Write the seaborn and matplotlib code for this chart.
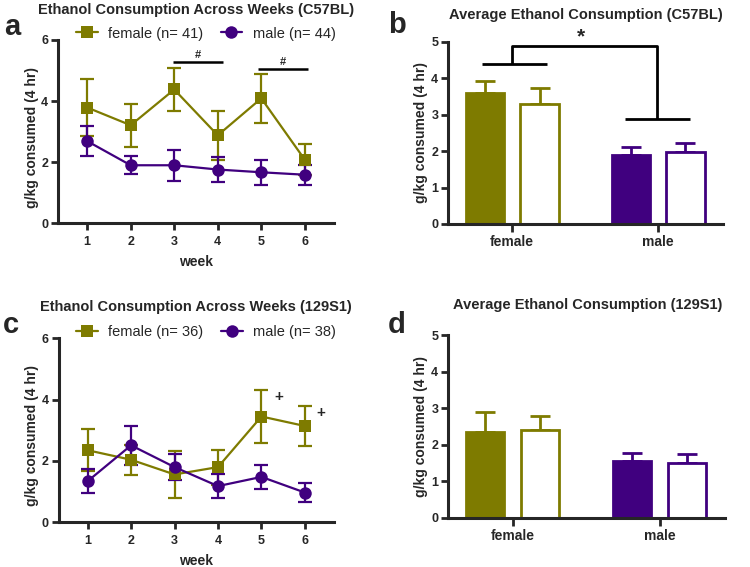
import numpy as np
import pandas as pd
import matplotlib
matplotlib.use("Agg")
import matplotlib.pyplot as plt
import seaborn as sns

# ---------------- data ----------------
weeks = [1, 2, 3, 4, 5, 6]

c57_female_mean = [3.79, 3.21, 4.38, 2.88, 4.09, 2.08]
c57_female_sem = [0.92, 0.70, 0.70, 0.80, 0.80, 0.50]
c57_male_mean = [2.69, 1.90, 1.90, 1.76, 1.67, 1.59]
c57_male_sem = [0.48, 0.29, 0.50, 0.40, 0.40, 0.32]
c57_n = [41, 44]

s129_female_mean = [2.35, 2.04, 1.56, 1.80, 3.45, 3.14]
s129_female_sem = [0.69, 0.49, 0.76, 0.57, 0.85, 0.66]
s129_male_mean = [1.34, 2.51, 1.80, 1.18, 1.48, 0.97]
s129_male_sem = [0.39, 0.63, 0.43, 0.40, 0.38, 0.31]
s129_n = [36, 38]

sexes = ["female", "male"]
conditions = ["filled", "open"]

c57_avg_filled = [3.60, 1.89]
c57_avg_filled_sem = [0.33, 0.23]
c57_avg_open = [3.29, 1.98]
c57_avg_open_sem = [0.43, 0.23]

s129_avg_filled = [2.34, 1.56]
s129_avg_filled_sem = [0.56, 0.20]
s129_avg_open = [2.40, 1.49]
s129_avg_open_sem = [0.39, 0.25]

OLIVE = "#7E7B00"
PURPLE = "#40007F"

sns.set_style("ticks")
plt.rcParams["font.family"] = ["Liberation Sans", "DejaVu Sans"]

W, H = 750, 567
fig = plt.figure(figsize=(7.5, 5.67), dpi=100)


def fx(px):
    return px / W


def fy(py):
    return 1 - py / H


def add_ax(l, t, r, b):
    return fig.add_axes([fx(l), fy(b), fx(r - l), (b - t) / H])


def style_axes(ax):
    sns.despine(ax=ax)
    for s in ["left", "bottom"]:
        ax.spines[s].set_linewidth(2.2)
    ax.tick_params(direction="out", length=5, width=2, labelsize=9, pad=2)
    for lab in ax.get_xticklabels() + ax.get_yticklabels():
        lab.set_fontweight("bold")


def line_panel(ax, fm, fs, mm, ms, n):
    labels = [f"female (n= {n[0]})", f"male (n= {n[1]})"]
    df = pd.DataFrame({
        "week": weeks * 2,
        "value": fm + mm,
        "group": [labels[0]] * len(weeks) + [labels[1]] * len(weeks),
    })
    sns.lineplot(data=df, x="week", y="value", hue="group", style="group",
                 hue_order=labels, style_order=labels,
                 markers=["s", "o"], dashes=False, palette=[OLIVE, PURPLE],
                 markersize=9, markeredgewidth=0, linewidth=1.6,
                 errorbar=None, ax=ax)
    ax.errorbar(weeks, fm, yerr=fs, fmt="none", ecolor=OLIVE, elinewidth=1.6,
                capsize=5, capthick=1.6, zorder=1.8)
    ax.errorbar(weeks, mm, yerr=ms, fmt="none", ecolor=PURPLE, elinewidth=1.6,
                capsize=5, capthick=1.6, zorder=1.9)
    ax.set_xlim(0.33, 6.67)
    ax.set_ylim(0, 6)
    ax.set_xticks(weeks)
    ax.set_yticks([0, 2, 4, 6])
    ax.set_xlabel("week", fontsize=10, fontweight="bold", labelpad=5)
    ax.set_ylabel("g/kg consumed (4 hr)", fontsize=10, fontweight="bold")
    ax.yaxis.set_label_coords(-0.07, 0.47)
    style_axes(ax)
    ax.tick_params(axis="x", pad=4)
    sns.move_legend(ax, "center", bbox_to_anchor=(0.535, 1.035), ncol=2,
                    frameon=False, title=None, fontsize=10.5,
                    handlelength=1.5, handletextpad=0.7, columnspacing=1.2,
                    borderaxespad=0)


def bar_panel(ax, filled, filled_sem, opened, opened_sem):
    df = pd.DataFrame({
        "sex": sexes * 2,
        "cond": [conditions[0]] * 2 + [conditions[1]] * 2,
        "value": filled + opened,
    })
    sns.barplot(data=df, x="sex", y="value", hue="cond", order=sexes,
                hue_order=conditions, width=0.75, gap=0.3, errorbar=None,
                legend=False, ax=ax)
    for ci, (container, sems) in enumerate(zip(ax.containers, [filled_sem, opened_sem])):
        for bar, sex, s in zip(container, sexes, sems):
            col = OLIVE if sex == "female" else PURPLE
            bar.set_facecolor(col if ci == 0 else "white")
            bar.set_edgecolor(col)
            bar.set_linewidth(2)
            x = bar.get_x() + bar.get_width() / 2
            h = bar.get_height()
            ax.errorbar([x], [h], yerr=[[0], [s]], fmt="none", ecolor=col,
                        elinewidth=2, capsize=7, capthick=2,
                        zorder=bar.get_zorder() - 0.1)
    ax.set_xlim(-0.44, 1.445)
    ax.set_ylim(0, 5)
    ax.set_yticks([0, 1, 2, 3, 4, 5])
    ax.set_xlabel("")
    ax.set_ylabel("g/kg consumed (4 hr)", fontsize=10, fontweight="bold")
    ax.yaxis.set_label_coords(-0.073, 0.5)
    style_axes(ax)
    ax.tick_params(axis="x", labelsize=10, length=6)
    for lab in ax.get_xticklabels():
        lab.set_fontweight("bold")


# ---------------- panel a ----------------
ax_a = add_ax(58, 40, 334, 223.3)
line_panel(ax_a, c57_female_mean, c57_female_sem, c57_male_mean, c57_male_sem, c57_n)
ax_a.plot([2.97, 4.12], [5.29, 5.29], color="black", lw=1.8, solid_capstyle="butt")
ax_a.plot([4.93, 6.07], [5.04, 5.04], color="black", lw=1.8, solid_capstyle="butt")
ax_a.text(3.55, 5.52, "#", ha="center", va="center", fontsize=8, fontweight="bold")
ax_a.text(5.5, 5.27, "#", ha="center", va="center", fontsize=8, fontweight="bold")

# ---------------- panel b ----------------
ax_b = add_ax(448, 41.7, 723, 224)
bar_panel(ax_b, c57_avg_filled, c57_avg_filled_sem, c57_avg_open, c57_avg_open_sem)
kw = dict(color="black", lw=2, solid_capstyle="butt", clip_on=False)
ax_b.plot([-0.21, 0.24], [4.38, 4.38], **kw)
ax_b.plot([0.0, 0.0, 0.99, 0.99], [4.38, 4.89, 4.89, 2.87], **kw)
ax_b.plot([0.77, 1.22], [2.87, 2.87], **kw)
ax_b.text(0.47, 5.12, "*", ha="center", va="center", fontsize=15, fontweight="bold")

# ---------------- panel c ----------------
ax_c = add_ax(58.5, 338.3, 334, 522.3)
line_panel(ax_c, s129_female_mean, s129_female_sem, s129_male_mean, s129_male_sem, s129_n)
ax_c.text(5.4, 4.07, "+", ha="center", va="center", fontsize=11, fontweight="bold")
ax_c.text(6.36, 3.55, "+", ha="center", va="center", fontsize=11, fontweight="bold")

# ---------------- panel d ----------------
ax_d = add_ax(448, 335, 725, 517.7)
bar_panel(ax_d, s129_avg_filled, s129_avg_filled_sem, s129_avg_open, s129_avg_open_sem)

# ---------------- titles and letters ----------------
tkw = dict(ha="center", va="center", fontsize=10.5, fontweight="bold")
fig.text(fx(196), fy(10), "Ethanol Consumption Across Weeks (C57BL)", **tkw)
fig.text(fx(586), fy(15), "Average Ethanol Consumption (C57BL)", **tkw)
fig.text(fx(196), fy(307), "Ethanol Consumption Across Weeks (129S1)", **tkw)
fig.text(fx(588), fy(305), "Average Ethanol Consumption (129S1)", **tkw)

lkw = dict(ha="left", va="baseline", fontsize=21, fontweight="bold")
fig.text(fx(4), fy(35), "a", **lkw)
fig.text(fx(388), fy(33), "b", **lkw)
fig.text(fx(3), fy(333), "c", **lkw)
fig.text(fx(388), fy(333), "d", **lkw)

fig.savefig("out.png", dpi=100)
